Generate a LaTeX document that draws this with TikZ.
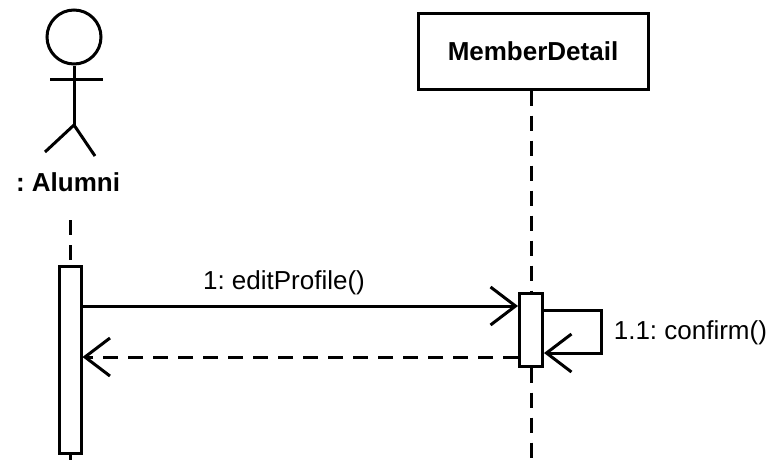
\documentclass[tikz,border=0pt]{standalone}
\usepackage{fontspec}
\setmainfont{Liberation Sans}
\usetikzlibrary{arrows.meta}
\usetikzlibrary{calc}
\frenchspacing

\begin{document}
\begin{tikzpicture}[x=1pt, y=-1pt, line width=3pt,
    every node/.style={font=\fontsize{26}{30}\selectfont},
    lifeline/.style={dash pattern=on 15pt off 10pt},
    activation/.style={draw, fill=white, minimum width=22pt, inner sep=0pt},
    msg/.style={-{Straight Barb[length=25pt,width=38pt]}},
    reply/.style={msg, dash pattern=on 15pt off 10pt}]
            \useasboundingbox (0,0) rectangle (770,459);

            % actor
            \node[draw, circle, minimum size=54pt, inner sep=0pt] (head) at (74,37) {};
            \coordinate (hip) at (74,125);
            \draw (head.south) -- (hip);
            \draw (50,79) -- (103,79);
            \draw (hip) -- (45,152);
            \draw (hip) -- (95,156);
            \node (alumni) at (68,182) {\bfseries : Alumni};

            % object
            \node[draw, minimum width=230pt, minimum height=76pt] (member) at (533,51) {\bfseries MemberDetail};

            % activations
            \node[activation, minimum height=187pt] (actA) at (70,359.5) {};
            \node[activation, minimum width=23pt, minimum height=73pt] (actB) at (531,329.5) {};

            % lifelines
            \coordinate (alumniTop) at (70,220);
            \coordinate (alumniEnd) at (70,462);
            \coordinate (memberEnd) at (531,462);
            \draw[lifeline] (alumniTop) -- (actA.north);
            \draw[lifeline] (actA.south) -- (alumniEnd);
            \draw[lifeline] (member.south -| actB.north) -- (actB.north);
            \draw[lifeline] (actB.south) -- (memberEnd);

            % messages
            \draw[msg] (actA.east |- 0,306) -- (actB.west |- 0,306);
            \node (edit) at (284,283) {1: editProfile()};
            \draw[reply] (actB.west |- 0,357) -- (actA.east |- 0,357);
            \coordinate (loopA) at (601,310);
            \coordinate (loopB) at (601,353);
            \draw[msg] (actB.east |- loopA) -- (loopA) -- (loopB) -- (actB.east |- loopB);
            \node[anchor=west] (confirm) at (609,333) {1.1: confirm()};
\end{tikzpicture}
\end{document}
